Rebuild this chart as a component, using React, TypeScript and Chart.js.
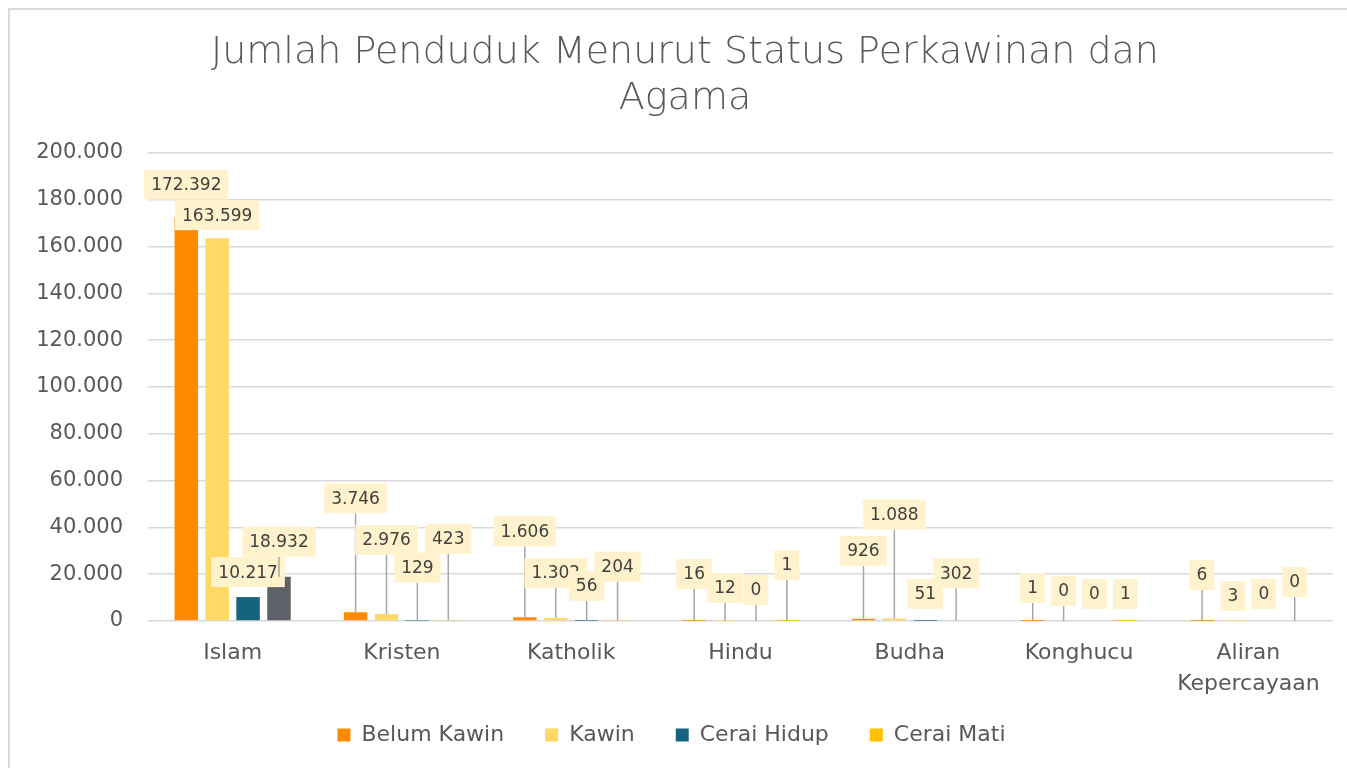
import React, { useEffect, useRef } from 'react';
import { Chart, registerables } from 'chart.js';

Chart.register(...registerables);

const FONT = "'DejaVu Sans', sans-serif";

const titleLines = ['Jumlah Penduduk Menurut Status Perkawinan dan', 'Agama'];
const categories = ['Islam', 'Kristen', 'Katholik', 'Hindu', 'Budha', 'Konghucu', 'Aliran Kepercayaan'];
const seriesNames = ['Belum Kawin', 'Kawin', 'Cerai Hidup', 'Cerai Mati'];

const belumKawin = [172392, 3746, 1606, 16, 926, 1, 6];
const kawin = [163599, 2976, 1302, 12, 1088, 0, 3];
const ceraiHidup = [10217, 129, 56, 0, 51, 0, 0];
const ceraiMati = [18932, 423, 204, 1, 302, 1, 0];

const yMin = 0;
const yMax = 200000;
const yStep = 20000;

// styling
const legendColors = ['#FF8A00', '#FFD966', '#146480', '#FFC000'];
const barColors = [
  legendColors[0],
  legendColors[1],
  legendColors[2],
  ['#5F6369', '#FFC000', '#FFC000', '#FFC000', '#FFC000', '#FFC000', '#FFC000'],
];

// label callout placement (pixels relative to bar top) and leader lines
const labelDy = [
  [-33, -114, -86, -47, -68, -33, -46],
  [-23, -74, -45, -33, -104, -30, -25],
  [-25, -53, -35, -31, -27, -27, -27],
  [-35, -81, -54, -56, -47, -27, -39],
];
const leaders = [
  [false, true, true, true, true, true, true],
  [false, true, true, true, true, true, false],
  [false, true, true, true, false, false, false],
  [true, true, true, true, true, false, true],
];

const fmt = (n: number) => String(n).replace(/\B(?=(\d{3})+(?!\d))/g, '.');

const calloutPlugin = {
  id: 'calloutLabels',
  afterDatasetsDraw(chart: any) {
    const ctx = chart.ctx;
    ctx.save();
    ctx.font = `17px ${FONT}`;
    ctx.textAlign = 'center';
    ctx.textBaseline = 'middle';
    chart.data.datasets.forEach((ds: any, i: number) => {
      const meta = chart.getDatasetMeta(i);
      meta.data.forEach((bar: any, j: number) => {
        const v = ds.data[j];
        const text = fmt(v);
        const cx = bar.x;
        const cy = bar.y + labelDy[i][j];
        const w = ctx.measureText(text).width + 14;
        const h = 30;
        if (leaders[i][j]) {
          ctx.strokeStyle = '#A6A6A6';
          ctx.lineWidth = 1.5;
          ctx.beginPath();
          ctx.moveTo(cx, cy + h / 2);
          ctx.lineTo(cx, bar.y);
          ctx.stroke();
        }
        ctx.fillStyle = '#FFF2CC';
        ctx.fillRect(cx - w / 2, cy - h / 2, w, h);
        ctx.fillStyle = '#404040';
        ctx.fillText(text, cx, cy + 1);
      });
    });
    ctx.restore();
  },
};

const titlePlugin = {
  id: 'customTitle',
  afterDraw(chart: any) {
    const ctx = chart.ctx;
    ctx.save();
    ctx.font = `300 38px ${FONT}`;
    ctx.fillStyle = '#595959';
    ctx.textAlign = 'center';
    ctx.textBaseline = 'middle';
    titleLines.forEach((t, k) => ctx.fillText(t, 675, 43 + k * 46));
    ctx.restore();
  },
};

export default function App() {
  const ref = useRef<HTMLCanvasElement | null>(null);
  useEffect(() => {
    if (!ref.current) return;
    const series = [belumKawin, kawin, ceraiHidup, ceraiMati];
    const chart = new Chart(ref.current, {
      type: 'bar',
      data: {
        labels: categories,
        datasets: series.map((d, i) => ({
          label: seriesNames[i],
          data: d,
          backgroundColor: barColors[i] as any,
          borderWidth: 0,
          categoryPercentage: 0.73,
          barPercentage: 0.76,
        })),
      },
      options: {
        animation: false,
        responsive: false,
        devicePixelRatio: 1,
        layout: { padding: { top: 143, right: 14, bottom: 12, left: 0 } },
        scales: {
          x: {
            grid: { display: false },
            border: { display: false },
            ticks: {
              color: '#595959',
              font: { family: FONT, size: 22, lineHeight: 31 / 22 },
              padding: 9,
              maxRotation: 0,
              autoSkip: false,
              callback: (_v: any, i: number) => {
                const s = categories[i];
                return s.includes(' ') ? s.split(' ') : s;
              },
            },
            afterFit: (s: any) => {
              s.height = 62;
              // let the second label line extend past the axis box
              s._computeLabelArea = () => undefined;
            },
          },
          y: {
            min: yMin,
            max: yMax,
            grid: { color: '#D9D9D9', lineWidth: 1.5, drawTicks: false },
            border: { display: false },
            ticks: {
              stepSize: yStep,
              color: '#595959',
              font: { family: FONT, size: 21 },
              padding: 25,
              callback: (v: any) => fmt(Number(v)),
            },
            afterFit: (s: any) => {
              s.width = 138;
            },
          },
        },
        plugins: {
          title: { display: false },
          tooltip: { enabled: false },
          legend: {
            position: 'bottom',
            labels: {
              color: '#595959',
              font: { family: FONT, size: 22 },
              boxWidth: 13,
              boxHeight: 13,
              padding: 41,
              generateLabels: (c: any) => {
                const items = (Chart.defaults.plugins.legend.labels as any).generateLabels(c);
                items.forEach((it: any, k: number) => {
                  it.fillStyle = legendColors[k];
                  it.strokeStyle = legendColors[k];
                  it.lineWidth = 0;
                });
                return items;
              },
            },
          },
        },
      },
      plugins: [calloutPlugin, titlePlugin],
    });
    return () => chart.destroy();
  }, []);

  return (
    <div
      style={{
        position: 'absolute',
        top: 8,
        left: 8,
        width: 1339,
        height: 760,
        boxSizing: 'border-box',
        borderTop: '2px solid #D9D9D9',
        borderLeft: '2px solid #D9D9D9',
        background: '#fff',
        overflow: 'hidden',
      }}
    >
      <canvas ref={ref} width={1337} height={758} style={{ display: 'block' }} />
    </div>
  );
}
